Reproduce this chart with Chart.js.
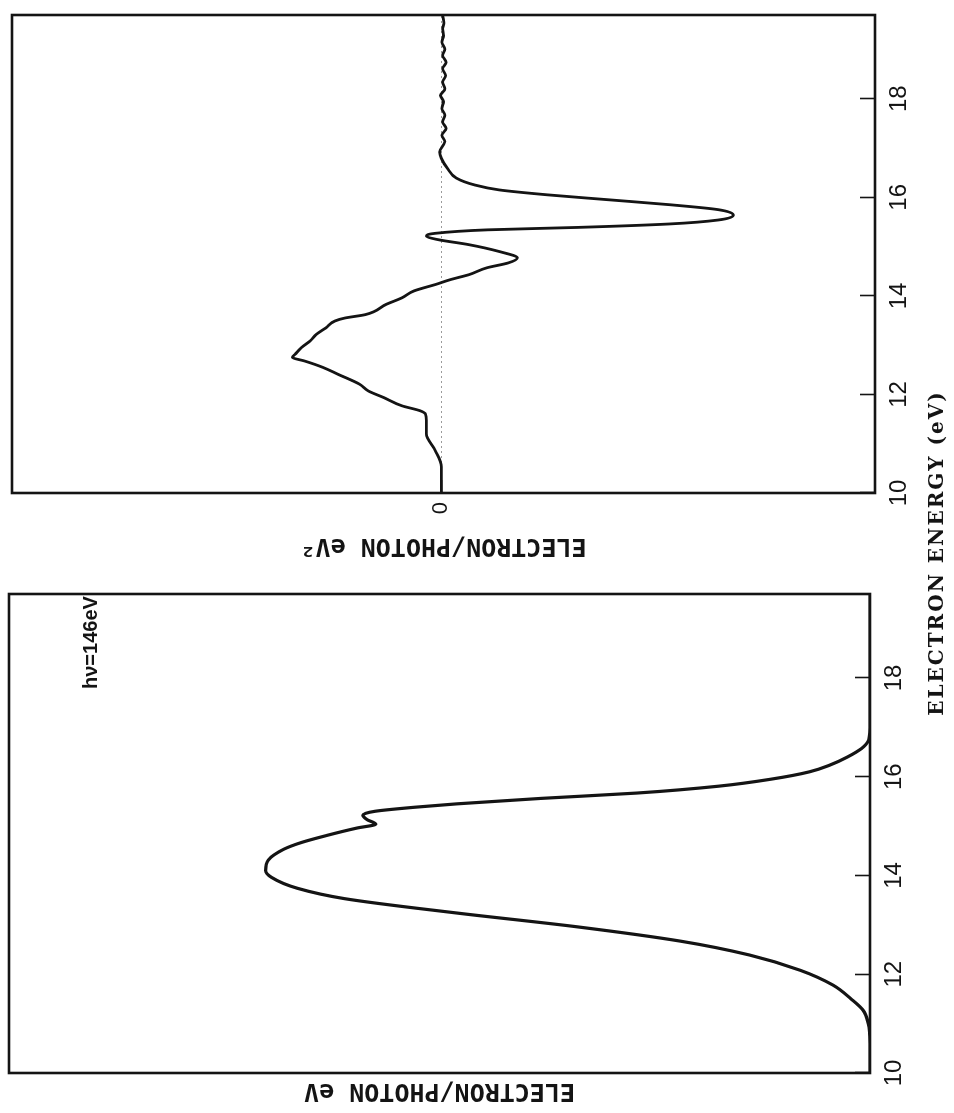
<!DOCTYPE html>
<html>
<head>
<meta charset="utf-8">
<script src="https://cdn.jsdelivr.net/npm/chart.js@4.4.1/dist/chart.umd.min.js"></script>
<style>
html,body{margin:0;padding:0;background:#fff;width:954px;height:1113px;overflow:hidden;}
#fig{position:absolute;left:0;top:0;width:1113px;height:954px;transform-origin:0 0;transform:translate(0,1113px) rotate(-90deg);background:#fff;}
#c1{position:absolute;left:0;top:0;}
#c2{position:absolute;left:545px;top:0;}
#xtitle{position:absolute;left:310px;width:500px;top:921px;text-align:center;font:bold 20px/30px "DejaVu Serif",serif;letter-spacing:2px;color:#141414;white-space:nowrap;}
#hv{position:absolute;left:424px;top:78px;font:bold 20px/24px "Liberation Sans",sans-serif;color:#141414;white-space:nowrap;}
</style>
</head>
<body>
<div id="fig">
  <canvas id="c1" width="560" height="954" style="width:560px;height:954px"></canvas>
  <canvas id="c2" width="568" height="954" style="width:568px;height:954px"></canvas>
  <div id="hv">hν=146eV</div>
  <div id="xtitle">ELECTRON ENERGY (eV)</div>
</div>
<script>
// ---- data ----
const energyTicks = [10, 12, 14, 16, 18];
const zeroTicks = [0];

// electron / photon eV  (hν spectrum)
const spectrumEnergy = [10.0, 10.5, 10.8, 11.0, 11.27, 11.5, 11.78, 12.08, 12.39, 12.67, 12.96, 13.24, 13.53, 13.74, 13.96, 14.1, 14.31, 14.53, 14.67, 14.81, 14.96, 15.04, 15.13, 15.22, 15.3, 15.38, 15.45, 15.56, 15.67, 15.81, 15.95, 16.1, 16.24, 16.4, 16.57, 16.75, 17.1, 19.7];
const spectrumYield  = [0, 0, 0.05, 0.2, 0.8, 2.2, 4.3, 8.1, 14.0, 22.0, 34.0, 48.0, 61.0, 66.5, 69.5, 70.2, 69.9, 68.1, 66.0, 63.1, 59.6, 57.4, 58.4, 58.9, 57.5, 53.0, 48.0, 38.3, 27.0, 17.5, 11.5, 7.0, 4.6, 2.6, 1.0, 0.15, 0, 0];

// electron / photon eV^2 (derivative)
const derivEnergy = [10.0, 10.53, 10.86, 11.2, 11.47, 11.6, 11.67, 11.77, 11.94, 12.07, 12.21, 12.41, 12.55, 12.68, 12.75, 12.82, 12.95, 13.09, 13.22, 13.35, 13.49, 13.55, 13.62, 13.83, 13.96, 14.1, 14.23, 14.33, 14.43, 14.57, 14.67, 14.77, 14.9, 15.04, 15.14, 15.21, 15.27, 15.34, 15.39, 15.46, 15.54, 15.64, 15.75, 15.85, 15.95, 16.05, 16.15, 16.25, 16.39, 16.59, 16.79, 16.92, 17.13, 17.26, 17.4, 17.53, 17.67, 17.8, 17.94, 18.07, 18.2, 18.34, 18.47, 18.61, 18.74, 18.88, 19.01, 19.15, 19.28, 19.42, 19.55, 19.69];
const derivValue  = [0, 0, 1.4, 3.5, 3.5, 3.7, 5.0, 9.2, 13.5, 17.0, 19.1, 24.1, 27.6, 31.9, 34.7, 34.0, 32.6, 30.5, 29.1, 26.9, 24.8, 22.5, 17.7, 12.8, 9.2, 6.4, 1.4, -2.1, -6.4, -10.6, -15.6, -17.7, -13.5, -6.4, 0.7, 3.5, 1.4, -10.6, -31.9, -53.2, -64.5, -68.0, -64.5, -53.2, -39.0, -24.8, -13.5, -7.8, -3.5, -1.4, 0, 0.4, -0.8, -0.1, -1.1, -0.3, -0.8, -0.1, -0.5, 0.2, -0.8, -0.3, -1.0, -0.3, -1.1, -0.3, -0.8, -0.1, -0.5, -0.3, -0.6, -0.3];

const energyMin = 10, energyMax = 19.7;
const INK = '#141414';

// ---- helpers ----
const framePlugin = {
  id: 'frame',
  afterDraw(chart) {
    const {ctx, chartArea: a} = chart;
    ctx.save();
    ctx.strokeStyle = INK;
    ctx.lineWidth = 2.6;
    ctx.strokeRect(a.left, a.top, a.right - a.left, a.bottom - a.top);
    ctx.restore();
  }
};

function noPad(s) { s.paddingTop = 0; s.paddingBottom = 0; s.paddingLeft = 0; s.paddingRight = 0; }

function energyAxis(axisHeight) {
  return {
    type: 'linear', position: 'bottom', min: energyMin, max: energyMax,
    afterBuildTicks: s => { s.ticks = energyTicks.map(v => ({value: v})); },
    afterFit: s => { s.height = axisHeight; noPad(s); },
    grid: {drawOnChartArea: false, drawTicks: true, tickLength: -15, tickColor: INK, tickWidth: 1.6},
    border: {display: false},
    ticks: {color: INK, font: {family: 'Liberation Sans', size: 24}, padding: 25, maxRotation: 0, autoSkip: false,
            callback: v => String(v)}
  };
}

function pts(xs, ys) { return xs.map((x, i) => ({x, y: ys[i]})); }

const common = {
  responsive: false, animation: false, devicePixelRatio: 1, events: [],
  plugins: {legend: {display: false}, tooltip: {enabled: false}}
};

const yTitleFont = {family: 'DejaVu Sans Mono', size: 25, weight: 'bold'};

// ---- left panel: spectrum ----
new Chart(document.getElementById('c1'), {
  type: 'line',
  data: {datasets: [{
    data: pts(spectrumEnergy, spectrumYield),
    borderColor: INK, borderWidth: 3.2, pointRadius: 0, fill: false,
    cubicInterpolationMode: 'monotone'
  }]},
  options: Object.assign({}, common, {
    layout: {padding: {left: 0, top: 9, right: 41, bottom: 0}},
    scales: {
      x: energyAxis(84),
      y: {
        type: 'linear', position: 'left', min: 0, max: 100,
        afterFit: s => { s.width = 40; noPad(s); },
        ticks: {display: false}, grid: {display: false}, border: {display: false},
        title: {display: true, text: 'ELECTRON/PHOTON eV', color: INK,
                font: yTitleFont, padding: {top: 7, bottom: 0}}
      }
    }
  }),
  plugins: [framePlugin]
});

// ---- right panel: derivative ----
new Chart(document.getElementById('c2'), {
  type: 'line',
  data: {datasets: [{
    data: pts(derivEnergy, derivValue),
    borderColor: INK, borderWidth: 2.8, pointRadius: 0, fill: false,
    cubicInterpolationMode: 'monotone'
  }]},
  options: Object.assign({}, common, {
    layout: {padding: {left: 0, top: 12, right: 15, bottom: 0}},
    scales: {
      x: energyAxis(79),
      y: {
        type: 'linear', position: 'left', min: -101, max: 100,
        afterBuildTicks: s => { s.ticks = zeroTicks.map(v => ({value: v})); },
        afterFit: s => { s.width = 75; noPad(s); },
        ticks: {color: INK, font: {family: 'Liberation Sans', size: 22}, padding: 22, callback: v => String(v)},
        grid: {drawOnChartArea: true, color: '#9a9a9a', lineWidth: 1, drawTicks: true, tickLength: -13, tickColor: INK, tickWidth: 1.6},
        border: {display: false, dash: [2, 3]},
        title: {display: true, text: 'ELECTRON/PHOTON eV²', color: INK,
                font: yTitleFont, padding: {top: 7, bottom: 0}}
      }
    }
  }),
  plugins: [framePlugin]
});
</script>
</body>
</html>
